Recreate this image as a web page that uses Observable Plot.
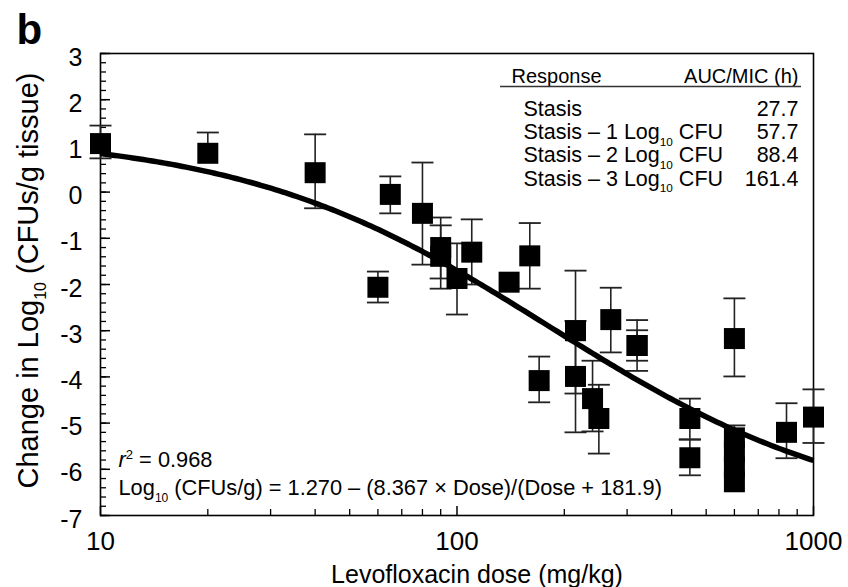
<!DOCTYPE html>
<html>
<head>
<meta charset="utf-8">
<script src="https://cdn.jsdelivr.net/npm/d3@7"></script>
<script src="https://cdn.jsdelivr.net/npm/@observablehq/plot@0.6"></script>
<style>
  html, body { margin: 0; padding: 0; background: #fff; }
  #chart { width: 848px; height: 587px; }
</style>
</head>
<body>
<div id="chart"></div>
<script>
// ---- data ----
const doses     = [10, 20, 40, 60, 65, 80, 90, 90, 100, 110, 140, 160, 170, 215, 215, 240, 250, 270, 320, 320, 450, 450, 600, 600, 600, 600, 600, 840, 1000];
const logChange = [1.05, 0.84, 0.42, -2.06, -0.05, -0.46, -1.20, -1.39, -1.87, -1.30, -1.95, -1.38, -4.08, -3.00, -3.99, -4.47, -4.90, -2.76, -3.32, -3.32, -4.90, -5.75, -3.17, -5.32, -5.62, -5.95, -6.27, -5.20, -4.87];
const errUp     = [0.39, 0.45, 0.83, 0.34, 0.39, 1.10, 0.65, 0.67, 0.76, 0.71, 0, 0.71, 0.52, 1.30, 1.20, 0.82, 0.73, 0.69, 0.55, 0.33, 0.43, 0.39, 0.87, 0.27, 0, 0, 0, 0.63, 0.60];
const errDown   = [0.32, 0, 0.77, 0.33, 0.41, 1.11, 0.67, 0.70, 0.78, 0.70, 0, 0.71, 0.47, 1.36, 1.21, 0.71, 0.76, 0.71, 0.55, 0.33, 0.45, 0.38, 0.82, 0, 0, 0, 0, 0.56, 0.56];

// fitted model stated in the chart
const fitA = 1.270, fitB = 8.367, fitC = 181.9;
const r2 = 0.968;

// table
const responses = ["Stasis", "Stasis – 1 Log10 CFU", "Stasis – 2 Log10 CFU", "Stasis – 3 Log10 CFU"];
const aucMic = [27.7, 57.7, 88.4, 161.4];

// ticks
const yTicks = [3, 2, 1, 0, -1, -2, -3, -4, -5, -6, -7];
const yMinor = d3.range(-70, 31, 2).map(v => v / 10);
const xTicks = [10, 100, 1000];
const xMinor = [20, 30, 40, 50, 60, 70, 80, 90, 200, 300, 400, 500, 600, 700, 800, 900];

// ---- build tables ----
const points = doses.map((d, i) => ({dose: d, y: logChange[i], up: errUp[i], down: errDown[i]}));
const curve = d3.range(0, 201).map(i => {
  const d = 10 * Math.pow(100, i / 200);
  return {dose: d, y: fitA - fitB * d / (d + fitC)};
});

const squareSym = {draw(ctx) { ctx.rect(-10.5, -10.5, 21, 21); }};
const capSym = {draw(ctx) { ctx.moveTo(-11, 0); ctx.lineTo(11, 0); }};
const fmtY = d => (d < 0 ? "-" + Math.abs(d) : String(d));
const barColor = "#222";

const svg = Plot.plot({
  width: 848,
  height: 587,
  marginLeft: 100,
  marginRight: 35,
  marginTop: 53,
  marginBottom: 72,
  style: {fontFamily: "'Liberation Sans', Arial, Helvetica, sans-serif", color: "black", background: "white", overflow: "visible"},
  x: {type: "log", domain: [10, 1000]},
  y: {domain: [-7, 3]},
  marks: [
    // axes
    Plot.axisY({ticks: yTicks, tickSize: 0, tickPadding: 18, fontSize: 25, dy: 4, tickFormat: fmtY, label: null}),
    Plot.axisY({ticks: yTicks, tickSize: 10, dx: 10, text: null, label: null, strokeWidth: 1.5}),
    Plot.axisY({ticks: yMinor, tickSize: 6, dx: 6, text: null, label: null, strokeWidth: 1.3}),
    Plot.axisX({ticks: xTicks, tickSize: 0, tickPadding: 16, fontSize: 26, tickFormat: d3.format("d"), label: null}),
    Plot.axisX({ticks: xTicks, tickSize: 9, dy: -9, text: null, label: null, strokeWidth: 1.5}),
    Plot.axisX({ticks: xMinor, tickSize: 6, dy: -6, text: null, label: null, strokeWidth: 1.3}),
    Plot.frame({stroke: "black", strokeWidth: 1.6}),
    // error bars
    Plot.ruleX(points.filter(p => p.up > 0 || p.down > 0), {x: "dose", y1: p => p.y - p.down, y2: p => p.y + p.up, stroke: barColor, strokeWidth: 1.6}),
    Plot.dot(points.filter(p => p.up > 0), {x: "dose", y: p => p.y + p.up, symbol: capSym, fill: "none", stroke: barColor, strokeWidth: 1.8}),
    Plot.dot(points.filter(p => p.down > 0), {x: "dose", y: p => p.y - p.down, symbol: capSym, fill: "none", stroke: barColor, strokeWidth: 1.8}),
    // fitted curve
    Plot.line(curve, {x: "dose", y: "y", stroke: "black", strokeWidth: 5.5, strokeLinecap: "butt", curve: "linear"}),
    // squares
    Plot.dot(points, {x: "dose", y: "y", symbol: squareSym, fill: "black", stroke: "none"}),
    // axis titles
    Plot.text(["Levofloxacin dose (mg/kg)"], {frameAnchor: "bottom", textAnchor: "middle", lineAnchor: "middle", dx: 20, dy: 59, fontSize: 25}),
    Plot.text(["Change in Log10 (CFUs/g tissue)"], {frameAnchor: "left", textAnchor: "middle", lineAnchor: "middle", rotate: -90, dx: -72, dy: -4, fontSize: 29}),
    // panel letter
    Plot.text(["b"], {frameAnchor: "top-left", textAnchor: "start", lineAnchor: "middle", dx: -84, dy: -23, fontSize: 42, fontWeight: "bold"}),
    // table
    Plot.text(["Response"], {frameAnchor: "top-right", textAnchor: "start", lineAnchor: "top", dx: -302, dy: 15, fontSize: 20}),
    Plot.text(["AUC/MIC (h)"], {frameAnchor: "top-right", textAnchor: "end", lineAnchor: "top", dx: -15, dy: 15, fontSize: 20}),
    Plot.text([responses.join("\n")], {frameAnchor: "top-right", textAnchor: "start", lineAnchor: "top", lineHeight: 1.08, dx: -290, dy: 46, fontSize: 21.5}),
    Plot.text([aucMic.map(v => v.toFixed(1)).join("\n")], {frameAnchor: "top-right", textAnchor: "end", lineAnchor: "top", lineHeight: 1.08, dx: -15, dy: 46, fontSize: 21.5}),
    // fit annotation
    Plot.text([`r² = ${r2}`], {frameAnchor: "bottom-left", textAnchor: "start", lineAnchor: "middle", dx: 18, dy: -55, fontSize: 21.8}),
    Plot.text([`Log10 (CFUs/g) = ${fitA.toFixed(3)} – (${fitB} × Dose)/(Dose + ${fitC})`], {frameAnchor: "bottom-left", textAnchor: "start", lineAnchor: "middle", dx: 18, dy: -27, fontSize: 21.8})
  ]
});

document.getElementById("chart").appendChild(svg);

// header rule of the table
const NS = "http://www.w3.org/2000/svg";
const frameRight = 848 - 35, frameTop = 53;
const hl = document.createElementNS(NS, "line");
hl.setAttribute("x1", frameRight - 313); hl.setAttribute("x2", frameRight - 12);
hl.setAttribute("y1", frameTop + 33.5); hl.setAttribute("y2", frameTop + 33.5);
hl.setAttribute("stroke", "#333"); hl.setAttribute("stroke-width", 1.6);
svg.appendChild(hl);

// rich text: subscripts for Log10, italic r with superscript 2
d3.select(svg).selectAll("text, tspan").each(function () {
  if (this.children.length) return;
  const s = this.textContent;
  if (!/Log10|r²/.test(s)) return;
  const fs = parseFloat(getComputedStyle(this).fontSize) || 20;
  this.textContent = "";
  let shift = 0;
  const add = (txt, attrs) => {
    const t = document.createElementNS(NS, "tspan");
    t.textContent = txt;
    for (const k in attrs) t.setAttribute(k, attrs[k]);
    this.appendChild(t);
  };
  for (const tok of s.split(/(Log10|r²)/)) {
    if (!tok) continue;
    if (tok === "Log10") {
      add("Log", shift ? {dy: -shift} : {});
      const sh = 0.3 * fs;
      add("10", {dy: sh, "font-size": (0.55 * fs).toFixed(1)});
      shift = sh;
    } else if (tok === "r²") {
      add("r", Object.assign({"font-style": "italic"}, shift ? {dy: -shift} : {}));
      const sh = -0.4 * fs;
      add("2", {dy: sh, "font-size": (0.6 * fs).toFixed(1)});
      shift = sh;
    } else {
      add(tok, shift ? {dy: -shift} : {});
      shift = 0;
    }
  }
});
</script>
</body>
</html>
